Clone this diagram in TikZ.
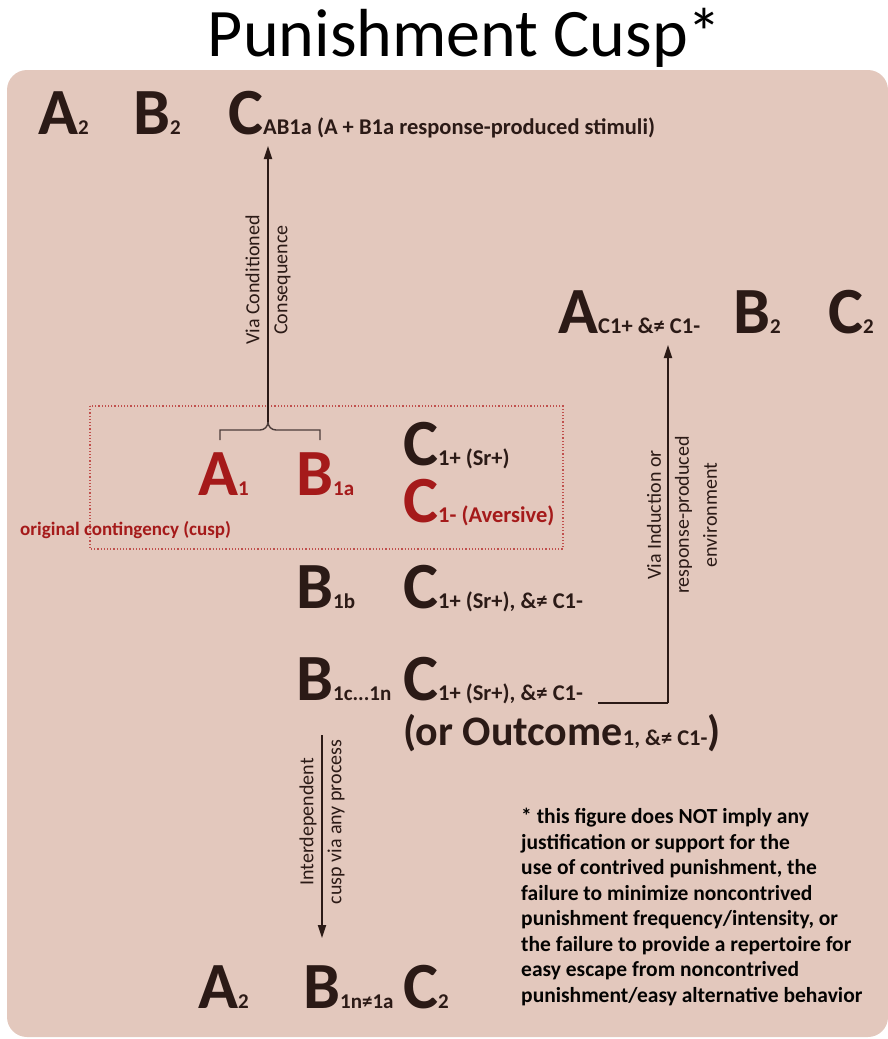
\documentclass[tikz,border=0pt]{standalone}
\usepackage{fontspec}
\setmainfont{Carlito}
\usetikzlibrary{arrows.meta}
\definecolor{bg}{HTML}{E3C8BD}
\definecolor{ink}{HTML}{2B1A16}
\definecolor{rd}{HTML}{A51A1A}
\definecolor{dotc}{HTML}{C0504D}
\newcommand\Lg[1]{{\fontsize{66}{66}\selectfont\bfseries #1}}
\newcommand\Sd[1]{{\fontsize{21}{21}\selectfont\bfseries #1}}
\newcommand\Sb[1]{{\fontsize{22.5}{22.5}\selectfont\bfseries #1}}
\tikzset{
  lbl/.style={anchor=base west, inner sep=0pt, text=ink},
  rlbl/.style={lbl, text=rd},
  conn/.style={draw=ink, line width=1.8pt},
  arr/.style={conn, -{Triangle[length=13pt,width=8pt]}},
  vlab/.style={rotate=90, align=center, text=ink, inner sep=0pt, font=\fontsize{20}{28}\selectfont},
}
\begin{document}
\begin{tikzpicture}[x=1pt,y=-1pt]
\useasboundingbox (0,0) rectangle (888,1039);
\fill[bg, rounded corners=20pt] (7,70) rectangle (888,1037);
\node[text=black, inner sep=0pt, font=\fontsize{68}{68}\selectfont] (title) at (465,38) {Punishment Cusp*};

% row 1
\node[lbl] (a2t) at (38,134) {\Lg{A}\Sd{2}};
\node[lbl] (b2t) at (133,134) {\Lg{B}\Sd{2}};
\node[lbl] (cab) at (228,134) {\Lg{C}\Sb{AB1a (A + B1a response-produced stimuli)}};
\coordinate (cabtip) at (268,146);

% right top row
\node[lbl] (ac) at (558,333) {\Lg{A}\Sb{C1+ \&≠ C1-}};
\node[lbl] (b2r) at (733,333) {\Lg{B}\Sd{2}};
\node[lbl] (c2r) at (828,333) {\Lg{C}\Sd{2}};
\coordinate (actip) at (668,345);

% cusp box
\draw[dotc, line width=1.2pt, dotted] (90,406) rectangle (563,549);
\node[rlbl] (a1) at (198,495) {\Lg{A}\Sd{1}};
\node[rlbl] (b1a) at (296,495) {\Lg{B}\Sd{1a}};
\node[lbl] (c1p) at (403,465) {\Lg{C}\Sb{1+ (Sr+)}};
\node[rlbl] (c1m) at (403,522) {\Lg{C}\Sb{1- (Aversive)}};
\node[rlbl, font=\fontsize{19}{19}\selectfont\bfseries] (orig) at (20,535) {original contingency (cusp)};

% brace
\coordinate (bl) at (220,440);
\coordinate (br) at (320,440);
\coordinate (bc) at (268,422);
\draw[conn, line width=1.4pt, draw=ink!85] (bl) -- (220,430) -- (260,430) to[out=0,in=-90] (bc) to[out=-90,in=180] (276,430) -- (320,430) -- (br);
\draw[arr] (bc) -- (cabtip);
\node[vlab] (vlab1) at (268,280) {Via Conditioned\\Consequence};

% B1b row
\node[lbl] (b1b) at (296,608) {\Lg{B}\Sd{1b}};
\node[lbl] (c1b) at (403,608) {\Lg{C}\Sb{1+ (Sr+), \&≠ C1-}};

% B1c row
\node[lbl] (b1c) at (296,700) {\Lg{B}\Sd{1c...1n}};
\node[lbl] (c1c) at (403,700) {\Lg{C}\Sb{1+ (Sr+), \&≠ C1-}};
\node[lbl, font=\fontsize{42}{42}\selectfont\bfseries] (out) at (403,745) {(or Outcome{\fontsize{22.5}{22.5}\selectfont 1, \&≠ C1-})};

\coordinate (cstart) at (598,703);
\coordinate (corner) at (668,703);
\draw[conn] (cstart) -- (corner);
\draw[arr] (corner) -- (actip);
\node[vlab] (vlab2) at (682,515) {Via Induction or\\response-produced\\environment};

% bottom arrow
\coordinate (dstart) at (322,735);
\coordinate (dend) at (322,938);
\draw[arr] (dstart) -- (dend);
\node[vlab] (vlab3) at (322,822) {Interdependent\\cusp via any process};

% bottom row
\node[lbl] (a2b) at (198,1008) {\Lg{A}\Sd{2}};
\node[lbl] (b1n) at (303,1008) {\Lg{B}\Sd{1n≠1a}};
\node[lbl] (c2b) at (403,1008) {\Lg{C}\Sd{2}};

% footnote
\node[anchor=north west, inner sep=0pt, align=left, text=black!90!ink, font=\fontsize{21.5}{25.5}\selectfont\bfseries] (note) at (521,808) {* this figure does NOT imply any\\justification or support for the\\use of contrived punishment, the\\failure to minimize noncontrived\\punishment frequency/intensity, or\\the failure to provide a repertoire for\\easy escape from noncontrived\\punishment/easy alternative behavior};
\end{tikzpicture}
\end{document}
